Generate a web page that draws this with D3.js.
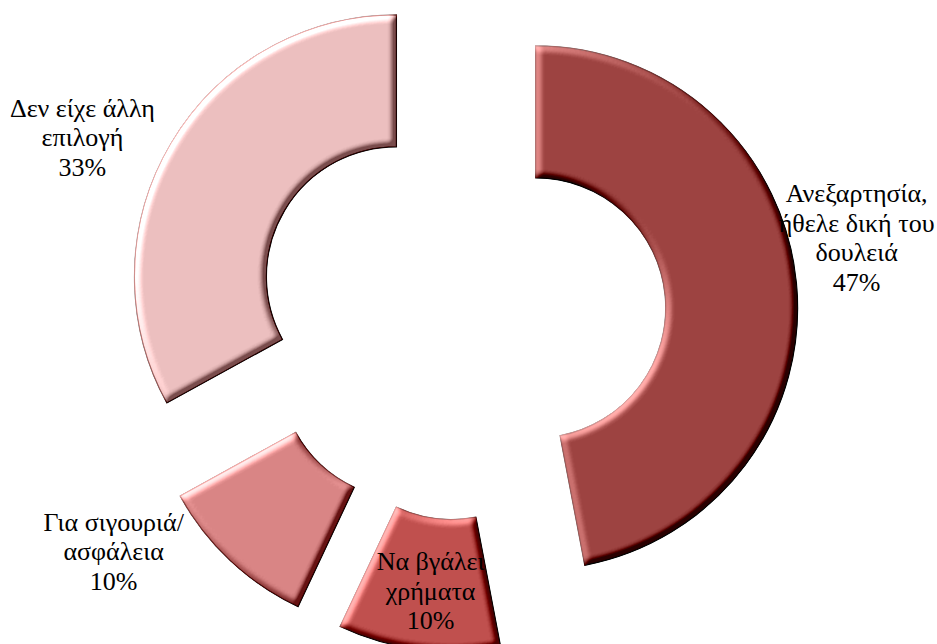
<!DOCTYPE html>
<html>
<head>
<meta charset="utf-8">
<script src="https://cdn.jsdelivr.net/npm/d3@7"></script>
<style>
  html, body { margin: 0; padding: 0; background: #fff; }
  svg { display: block; }
  .lbl { font-family: "Liberation Serif", "Tinos", "DejaVu Serif", "Noto Serif", serif; }
</style>
</head>
<body>
<svg id="chart" width="937" height="644"></svg>
<script>
// ---- data ----
const categories = ["Ανεξαρτησία, ήθελε δική του δουλειά", "Να βγάλει χρήματα", "Για σιγουριά/ ασφάλεια", "Δεν είχε άλλη επιλογή"];
const values = [47, 10, 10, 33];
const labelLines = [
  ["Ανεξαρτησία,", "ήθελε δική του", "δουλειά"],
  ["Να βγάλει", "χρήματα"],
  ["Για σιγουριά/", "ασφάλεια"],
  ["Δεν είχε άλλη", "επιλογή"]
];
const colors = ["#9d4341", "#c0504e", "#d98585", "#ecbfbf"];
const strokeColors = ["#6e2c2a", "#7e2f2d", "#8a3f3d", "#8a4a48"];

// ---- layout ----
const W = 937, H = 644;
const cx = 461, cy = 315;
const outerR = 262, innerR = 130;
const explode = 75;
const fontSize = 26;
const lineH = 29.5;
// label block centre offsets relative to exploded slice origin
const labelOffsets = [[321, -70], [-21, 202], [-296, 182], [-314, -139]];

const svg = d3.select("#chart");
const defs = svg.append("defs");
const f = defs.append("filter").attr("id", "bevel")
  .attr("x", "-10%").attr("y", "-10%").attr("width", "120%").attr("height", "120%")
  .attr("color-interpolation-filters", "sRGB");
f.append("feGaussianBlur").attr("in", "SourceAlpha").attr("stdDeviation", 3.5).attr("result", "blur");
f.append("feDiffuseLighting").attr("in", "blur").attr("surfaceScale", 6).attr("diffuseConstant", 1)
  .attr("lighting-color", "#fff").attr("result", "diff")
  .append("feDistantLight").attr("azimuth", 225).attr("elevation", 30);
f.append("feComposite").attr("in", "SourceGraphic").attr("in2", "diff").attr("operator", "arithmetic")
  .attr("k1", 0).attr("k2", 1).attr("k3", 0.9).attr("k4", -0.45).attr("result", "lit");
f.append("feComposite").attr("in", "lit").attr("in2", "SourceAlpha").attr("operator", "in");

const total = d3.sum(values);
const pie = d3.pie().sort(null).value(d => d)(values);
const arc = d3.arc().innerRadius(innerR).outerRadius(outerR);

const g = svg.append("g").attr("transform", `translate(${cx},${cy})`);

const slices = g.selectAll("g.slice").data(pie).join("g")
  .attr("class", "slice")
  .attr("transform", d => {
    const a = (d.startAngle + d.endAngle) / 2;
    return `translate(${explode * Math.sin(a)},${-explode * Math.cos(a)})`;
  });

slices.append("path")
  .attr("d", arc)
  .attr("fill", (d, i) => colors[i])
  .attr("stroke", (d, i) => strokeColors[i])
  .attr("stroke-width", 1.2)
  .attr("filter", "url(#bevel)");

slices.each(function(d, i) {
  const lines = labelLines[i].concat([Math.round(d.value / total * 100) + "%"]);
  const [ox, oy] = labelOffsets[i];
  const n = lines.length;
  const t = d3.select(this).append("text")
    .attr("class", "lbl")
    .attr("text-anchor", "middle")
    .style("font-size", fontSize + "px")
    .attr("fill", "#000");
  lines.forEach((ln, k) => {
    t.append("tspan")
      .attr("x", ox)
      .attr("y", oy + (k - (n - 1) / 2) * lineH + fontSize * 0.33)
      .text(ln);
  });
});
</script>
</body>
</html>
